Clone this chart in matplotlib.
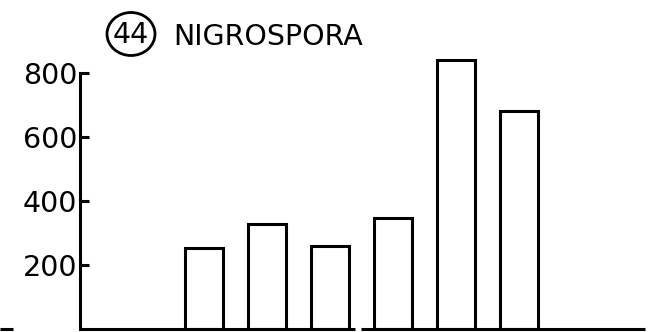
import matplotlib
matplotlib.use("Agg")
import matplotlib.pyplot as plt
from matplotlib.patches import Ellipse

# Spore counts for the six sampling periods
positions = [2, 3, 4, 5, 6, 7]
counts = [255, 330, 260, 348, 842, 682]
yticks = [200, 400, 600, 800]
ytick_labels = ["200", "400", "600", "800"]
panel_number = "44"
panel_title = "NIGROSPORA"

W, H = 650, 332
fig = plt.figure(figsize=(W / 100, H / 100), dpi=100)
fig.patch.set_facecolor("white")

lw = 2.2
font = "DejaVu Sans"
fs = 20.5

# axes geometry in pixels
px_left, px_bottom_from_top = 80, 329
ymax = 880
px_per_unit = 0.3194
ax_h = ymax * px_per_unit
ax = fig.add_axes([px_left / W, (H - px_bottom_from_top) / H, (W - px_left) / W, ax_h / H])

ax.bar(positions, counts, width=0.6, facecolor="white", edgecolor="black",
       linewidth=lw, zorder=3)

ax.set_xlim(0.035, 9.07)
ax.set_ylim(0, ymax)

for s in ["top", "right", "bottom"]:
    ax.spines[s].set_visible(False)
ax.spines["left"].set_bounds(0, 800)
ax.spines["left"].set_linewidth(lw)
ax.spines["left"].set_capstyle("projecting")

# broken baseline
ax.plot([0.035, 4.39], [0, 0], color="black", lw=lw, solid_capstyle="butt",
        clip_on=False, zorder=4)
ax.plot([4.49, 8.99], [0, 0], color="black", lw=lw, solid_capstyle="butt",
        clip_on=False, zorder=4)
ax.plot([-1.23, -1.03], [0, 0], color="black", lw=lw, solid_capstyle="butt",
        clip_on=False, zorder=4)

ax.set_xticks([])
ax.set_yticks(yticks)
ax.set_yticklabels(ytick_labels, fontsize=fs, fontfamily=font)
ax.tick_params(axis="y", direction="in", length=6.5, width=lw, pad=2.0)

# circled panel number and title
cx, cy = 131, 34
fig.add_artist(Ellipse((cx / W, 1 - cy / H), 48 / W, 43 / H,
                       transform=fig.transFigure, facecolor="none",
                       edgecolor="black", linewidth=2.0))
fig.text(cx / W, 1 - (cy + 1) / H, panel_number, fontsize=fs, fontfamily=font,
         ha="center", va="center")
fig.text(173 / W, 1 - 45 / H, panel_title, fontsize=fs, fontfamily=font,
         ha="left", va="baseline")

fig.savefig("out.png", dpi=100, facecolor="white")
